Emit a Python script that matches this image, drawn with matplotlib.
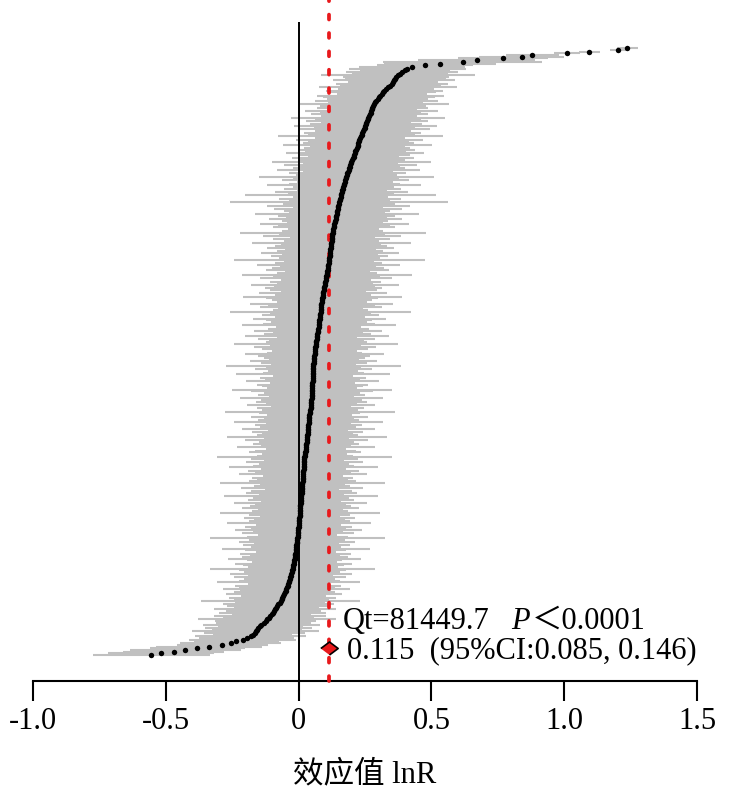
import numpy as np
import matplotlib
matplotlib.use("Agg")
import matplotlib.pyplot as plt

# study effect sizes (lnR), sorted from bottom row to top row
effect = [
    -0.554, -0.517, -0.471, -0.426, -0.381, -0.336, -0.287, -0.256, -0.234, -0.211,
    -0.196, -0.181, -0.173, -0.166, -0.162, -0.156, -0.151, -0.145, -0.140, -0.132,
    -0.124, -0.119, -0.113, -0.107, -0.102, -0.098, -0.094, -0.089, -0.085, -0.080,
    -0.076, -0.071, -0.067, -0.064, -0.061, -0.058, -0.055, -0.052, -0.049, -0.046,
    -0.043, -0.041, -0.039, -0.037, -0.035, -0.034, -0.032, -0.030, -0.028, -0.026,
    -0.023, -0.022, -0.021, -0.020, -0.018, -0.017, -0.016, -0.015, -0.014, -0.013,
    -0.012, -0.011, -0.010, -0.010, -0.009, -0.008, -0.007, -0.006, -0.005, -0.005,
    -0.004, -0.004, -0.003, -0.002, -0.001, -0.001, 0.000, 0.001, 0.002, 0.002,
    0.003, 0.003, 0.004, 0.005, 0.005, 0.006, 0.006, 0.007, 0.007, 0.007,
    0.008, 0.008, 0.008, 0.009, 0.009, 0.010, 0.011, 0.012, 0.012, 0.013,
    0.013, 0.014, 0.014, 0.015, 0.015, 0.016, 0.016, 0.017, 0.017, 0.018,
    0.019, 0.019, 0.020, 0.020, 0.021, 0.021, 0.022, 0.022, 0.023, 0.024,
    0.025, 0.026, 0.027, 0.028, 0.028, 0.029, 0.030, 0.030, 0.031, 0.032,
    0.033, 0.034, 0.034, 0.035, 0.036, 0.036, 0.037, 0.038, 0.038, 0.039,
    0.040, 0.040, 0.041, 0.042, 0.043, 0.044, 0.045, 0.047, 0.047, 0.048,
    0.048, 0.048, 0.049, 0.049, 0.049, 0.050, 0.050, 0.051, 0.051, 0.052,
    0.052, 0.052, 0.053, 0.053, 0.053, 0.054, 0.054, 0.055, 0.055, 0.055,
    0.056, 0.056, 0.056, 0.057, 0.057, 0.058, 0.059, 0.059, 0.060, 0.060,
    0.061, 0.062, 0.063, 0.064, 0.065, 0.066, 0.067, 0.068, 0.069, 0.069,
    0.071, 0.072, 0.073, 0.074, 0.075, 0.076, 0.076, 0.077, 0.078, 0.079,
    0.080, 0.081, 0.082, 0.083, 0.083, 0.084, 0.085, 0.086, 0.086, 0.087,
    0.088, 0.089, 0.090, 0.091, 0.092, 0.093, 0.094, 0.095, 0.097, 0.099,
    0.100, 0.101, 0.102, 0.103, 0.105, 0.106, 0.107, 0.108, 0.109, 0.110,
    0.111, 0.112, 0.113, 0.114, 0.115, 0.116, 0.117, 0.118, 0.118, 0.119,
    0.120, 0.121, 0.122, 0.122, 0.123, 0.124, 0.125, 0.126, 0.126, 0.127,
    0.128, 0.129, 0.131, 0.132, 0.134, 0.135, 0.137, 0.138, 0.139, 0.141,
    0.142, 0.144, 0.145, 0.146, 0.148, 0.149, 0.150, 0.152, 0.153, 0.155,
    0.156, 0.158, 0.159, 0.161, 0.162, 0.164, 0.166, 0.168, 0.170, 0.172,
    0.174, 0.176, 0.178, 0.180, 0.182, 0.184, 0.186, 0.188, 0.190, 0.192,
    0.194, 0.196, 0.198, 0.201, 0.204, 0.207, 0.209, 0.212, 0.214, 0.217,
    0.220, 0.222, 0.223, 0.225, 0.227, 0.229, 0.231, 0.234, 0.237, 0.240,
    0.243, 0.246, 0.249, 0.251, 0.253, 0.255, 0.258, 0.261, 0.263, 0.266,
    0.268, 0.271, 0.273, 0.276, 0.278, 0.281, 0.285, 0.289, 0.293, 0.298,
    0.303, 0.308, 0.313, 0.318, 0.323, 0.330, 0.337, 0.345, 0.351, 0.355,
    0.359, 0.364, 0.368, 0.373, 0.381, 0.390, 0.400, 0.410, 0.426, 0.475,
    0.532, 0.618, 0.671, 0.769, 0.841, 0.879, 1.011, 1.094, 1.203, 1.237,
]

# half width of each 95% CI (same order)
half_ci = [
    0.22, 0.20, 0.19, 0.21, 0.18, 0.20, 0.17, 0.19, 0.16, 0.20,
    0.18, 0.21, 0.15, 0.19, 0.24, 0.17, 0.20, 0.16, 0.22, 0.18,
    0.19, 0.26, 0.17, 0.21, 0.15, 0.20, 0.18, 0.23, 0.16, 0.19,
    0.21, 0.17, 0.30, 0.18, 0.20, 0.16, 0.22, 0.19, 0.17, 0.24,
    0.18, 0.20, 0.15, 0.27, 0.19, 0.17, 0.21, 0.16, 0.23, 0.18,
    0.20, 0.31, 0.17, 0.19, 0.22, 0.16, 0.18, 0.25, 0.20, 0.17,
    0.21, 0.15, 0.19, 0.28, 0.17, 0.20, 0.16, 0.22, 0.18, 0.33,
    0.19, 0.15, 0.21, 0.17, 0.24, 0.18, 0.20, 0.16, 0.27, 0.19,
    0.17, 0.21, 0.15, 0.19, 0.30, 0.18, 0.16, 0.22, 0.19, 0.17,
    0.25, 0.15, 0.20, 0.18, 0.29, 0.16, 0.21, 0.19, 0.14, 0.23,
    0.18, 0.16, 0.31, 0.20, 0.17, 0.19, 0.15, 0.24, 0.18, 0.21,
    0.16, 0.28, 0.19, 0.17, 0.22, 0.15, 0.20, 0.33, 0.18, 0.16,
    0.21, 0.19, 0.15, 0.26, 0.17, 0.20, 0.18, 0.23, 0.16, 0.30,
    0.19, 0.17, 0.21, 0.15, 0.25, 0.18, 0.20, 0.16, 0.28, 0.19,
    0.17, 0.22, 0.16, 0.19, 0.32, 0.18, 0.20, 0.15, 0.24, 0.17,
    0.21, 0.19, 0.27, 0.16, 0.20, 0.18, 0.23, 0.30, 0.17, 0.19,
    0.21, 0.16, 0.25, 0.18, 0.20, 0.15, 0.29, 0.19, 0.17, 0.22,
    0.18, 0.33, 0.16, 0.20, 0.24, 0.17, 0.19, 0.21, 0.26, 0.18,
    0.16, 0.20, 0.23, 0.17, 0.31, 0.19, 0.18, 0.22, 0.15, 0.27,
    0.20, 0.17, 0.24, 0.19, 0.16, 0.29, 0.21, 0.18, 0.20, 0.25,
    0.17, 0.22, 0.19, 0.34, 0.18, 0.16, 0.23, 0.20, 0.27, 0.17,
    0.19, 0.21, 0.30, 0.18, 0.24, 0.16, 0.20, 0.22, 0.19, 0.28,
    0.18, 0.21, 0.17, 0.25, 0.20, 0.32, 0.19, 0.16, 0.23, 0.21,
    0.18, 0.27, 0.20, 0.17, 0.36, 0.19, 0.22, 0.18, 0.26, 0.20,
    0.17, 0.24, 0.21, 0.19, 0.30, 0.18, 0.22, 0.16, 0.26, 0.20,
    0.35, 0.19, 0.17, 0.23, 0.21, 0.28, 0.18, 0.20, 0.25, 0.19,
    0.22, 0.31, 0.18, 0.20, 0.24, 0.17, 0.27, 0.21, 0.41, 0.19,
    0.23, 0.18, 0.36, 0.20, 0.25, 0.17, 0.22, 0.19, 0.29, 0.21,
    0.18, 0.24, 0.20, 0.33, 0.19, 0.22, 0.17, 0.27, 0.21, 0.19,
    0.25, 0.18, 0.30, 0.20, 0.23, 0.17, 0.21, 0.26, 0.19, 0.22,
    0.20, 0.18, 0.28, 0.21, 0.19, 0.24, 0.17, 0.31, 0.20, 0.22,
    0.18, 0.25, 0.19, 0.27, 0.21, 0.17, 0.23, 0.20, 0.29, 0.18,
    0.22, 0.19, 0.25, 0.17, 0.21, 0.20, 0.28, 0.18, 0.23, 0.19,
    0.21, 0.24, 0.17, 0.20, 0.22, 0.18, 0.26, 0.19, 0.21, 0.17,
    0.23, 0.19, 0.20, 0.29, 0.18, 0.21, 0.17, 0.22, 0.20, 0.18,
    0.21, 0.30, 0.22, 0.17, 0.16, 0.10, 0.05, 0.04, 0.03, 0.04,
]

pooled = 0.115
pooled_lo, pooled_hi = 0.085, 0.146
qt = 81449.7
xticks = [-1.0, -0.5, 0, 0.5, 1.0, 1.5]
xtick_labels = ["-1.0", "-0.5", "0", "0.5", "1.0", "1.5"]

plt.rcParams["font.family"] = ["Liberation Serif", "Noto Sans CJK SC"]

est = np.array(effect)
hw = np.array(half_ci)
rows = np.arange(len(est))

fig = plt.figure(figsize=(7.31, 8.09), dpi=100)
ax = fig.add_axes([33 / 731, 1 - 681 / 809, 664 / 731, 659 / 809])

ax.hlines(rows, est - hw, est + hw, colors="#c0c0c0", lw=1.5, zorder=1)
ax.axvline(0, color="black", lw=1.4, zorder=2)
ax.plot([pooled, pooled], [-15.4, 392], color="#e8191c", lw=2.7,
        linestyle=(0, (1.3, 3.6)), dash_capstyle="round", clip_on=False, zorder=3)
ax.plot(est, rows, "o", color="black", ms=3.9, mew=0, zorder=4)

# pooled estimate diamond
ax.plot(pooled, 4.1, marker=[(-1, 0), (0, 0.75), (1, 0), (0, -0.75)], ms=12.5,
        mfc="#e8191c", mec="black", mew=1.2, zorder=6)

t1 = ax.text(0.166, 15.4, f"Qt={qt}", fontsize=22, ha="left", va="baseline")
t2 = ax.annotate("P", xy=(1, 15.4), xycoords=(t1, "data"), xytext=(16, 0),
                 textcoords="offset points", fontsize=22, style="italic",
                 ha="left", va="baseline", annotation_clip=False)
ax.annotate("＜0.0001", xy=(1, 15.4), xycoords=(t2, "data"), xytext=(1, 0),
            textcoords="offset points", fontsize=22, ha="left", va="baseline",
            annotation_clip=False)
ax.text(0.181, -1.8, f"{pooled:.3f}  (95%CI:{pooled_lo:.3f}, {pooled_hi:.3f})",
        fontsize=22, ha="left", va="baseline")

ax.set_xlim(-1.0, 1.5)
ax.set_ylim(-15.4, 374.6)
ax.set_xticks(xticks)
ax.set_xticklabels(xtick_labels)
ax.set_yticks([])
for side in ("top", "left", "right"):
    ax.spines[side].set_visible(False)
ax.spines["bottom"].set_linewidth(1.5)
ax.tick_params(axis="x", direction="out", length=14.5, width=1.5, labelsize=22, pad=4)

fig.text(365 / 731, 1 - 775 / 809, "效应值 lnR", ha="center", va="center", fontsize=22)

fig.savefig("out.png", dpi=100)
plt.close(fig)
